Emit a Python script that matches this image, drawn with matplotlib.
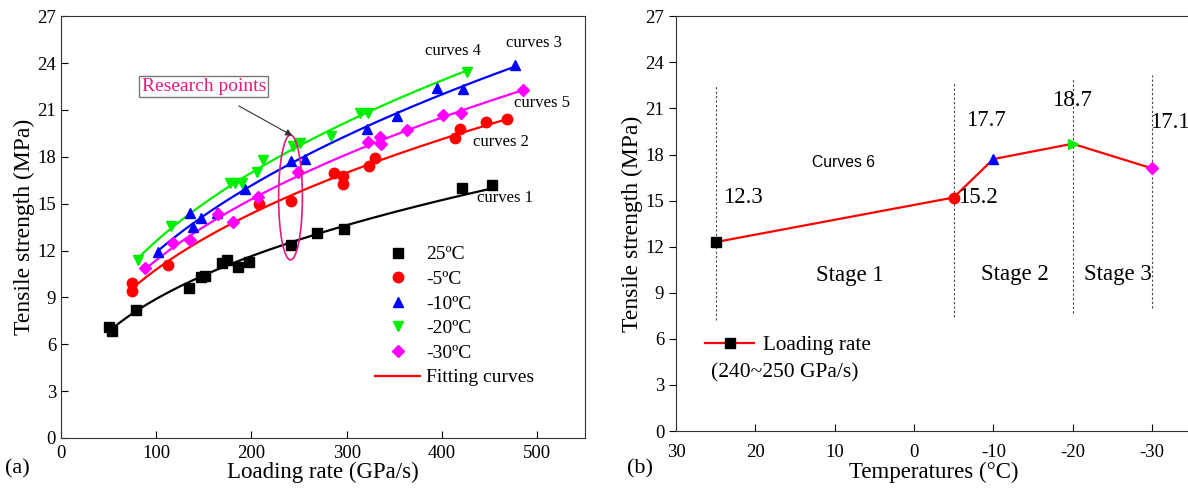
import numpy as np
import matplotlib
matplotlib.use('Agg')
from matplotlib import pyplot as plt
from matplotlib.patches import Ellipse

plt.rcParams['font.family'] = ['Liberation Serif', 'DejaVu Serif']
plt.rcParams['axes.unicode_minus'] = False

# (a) tensile strength vs loading rate
rate_25 = [50, 54, 79, 134, 147, 151, 169, 174, 186, 197, 242, 269, 297, 421, 453]
ts_25 = [7.1, 6.85, 8.2, 9.6, 10.3, 10.4, 11.2, 11.4, 10.95, 11.25, 12.35, 13.1, 13.4, 16.0, 16.2]

rate_m5 = [75, 75, 112, 208, 241, 287, 296, 296, 323, 330, 414, 419, 446, 468]
ts_m5 = [9.9, 9.4, 11.1, 15.0, 15.2, 16.95, 16.75, 16.25, 17.4, 17.95, 19.2, 19.8, 20.2, 20.45]

rate_m10 = [102, 136, 139, 147, 164, 193, 241, 256, 321, 353, 395, 422, 477]
ts_m10 = [11.9, 14.4, 13.5, 14.05, 14.4, 15.95, 17.7, 17.85, 19.75, 20.6, 22.4, 22.35, 23.9]

rate_m20 = [81, 116, 177, 183, 190, 206, 212, 244, 251, 283, 314, 322, 426]
ts_m20 = [11.4, 13.55, 16.3, 16.35, 16.3, 17.0, 17.8, 18.7, 18.9, 19.3, 20.8, 20.8, 23.4]

rate_m30 = [88, 118, 135, 165, 181, 207, 249, 322, 335, 336, 363, 401, 420, 485]
ts_m30 = [10.9, 12.45, 12.7, 14.35, 13.8, 15.45, 17.05, 18.95, 19.25, 18.85, 19.7, 20.7, 20.8, 22.25]

# (b) strength at 240~250 GPa/s vs temperature
temps = [25, -5, -10, -20, -30]
ts_temp = [12.3, 15.2, 17.7, 18.7, 17.1]

series = [
    (rate_25, ts_25, 'k', 's', u'25\u00baC'),
    (rate_m5, ts_m5, '#ff0000', 'o', u'-5\u00baC'),
    (rate_m10, ts_m10, '#0000ff', '^', u'-10\u00baC'),
    (rate_m20, ts_m20, '#00ee00', 'v', u'-20\u00baC'),
    (rate_m30, ts_m30, '#ff00ff', 'D', u'-30\u00baC'),
]

fig = plt.figure(figsize=(11.88, 4.91), dpi=100)
ax1 = fig.add_axes([0.0513, 0.108, 0.441, 0.859])
ax2 = fig.add_axes([0.569, 0.122, 0.434, 0.845])

handles = []
for x, y, c, m, lab in series:
    x = np.array(x, float)
    y = np.array(y, float)
    # power-law fit  y = a * x^b
    b, loga = np.polyfit(np.log(x), np.log(y), 1)
    xf = np.linspace(x.min(), x.max(), 200)
    ax1.plot(xf, np.exp(loga) * xf ** b, color=c, lw=1.6, zorder=2)
    ms = 6 if m == 'D' else 7.5
    h, = ax1.plot(x, y, ls='none', marker=m, color=c, ms=ms, zorder=3, label=lab)
    handles.append(h)

fit_h, = ax1.plot([], [], color='#ff0000', lw=1.6, label='Fitting curves')
handles.append(fit_h)
ax1.legend(handles=handles, loc='upper left', bbox_to_anchor=(330, 12.3),
           bbox_transform=ax1.transData, borderpad=0, borderaxespad=0,
           frameon=False, fontsize=14, handlelength=2.3, labelspacing=0.36,
           handletextpad=0.3)

ax1.text(412, 24.5, 'curves 4', fontsize=12, ha='center')
ax1.text(497, 25.0, 'curves 3', fontsize=12, ha='center')
ax1.text(505, 21.2, 'curves 5', fontsize=12, ha='center')
ax1.text(462, 18.7, 'curves 2', fontsize=12, ha='center')
ax1.text(466, 15.1, 'curves 1', fontsize=12, ha='center')

pink = '#e6197f'
ax1.add_patch(Ellipse((241, 15.4), 25, 8.0, fill=False, ec=pink, lw=1.2, zorder=4))
ax1.annotate('Research points', xy=(243, 19.35), xytext=(150, 22.5),
             fontsize=14, color=pink, ha='center', va='center',
             bbox=dict(boxstyle='square,pad=0.12', fc='white', ec='#777777', lw=1),
             arrowprops=dict(arrowstyle='-|>', color='#333333', lw=0.8,
                             shrinkA=12, shrinkB=0, mutation_scale=10),
             zorder=5)

ax1.set_xlim(0, 550)
ax1.set_ylim(0, 27)
ax1.set_xticks([0, 100, 200, 300, 400, 500])
ax1.set_yticks(np.arange(0, 28, 3))
ax1.tick_params(direction='in', labelsize=13.5, length=5, top=False, right=False)
ax1.tick_params(axis='x', pad=5)
ax1.set_xlabel('Loading rate (GPa/s)', fontsize=16.5, labelpad=0)
ax1.set_ylabel('Tensile strength (MPa)', fontsize=17, labelpad=2)
for s in ax1.spines.values():
    s.set_color('#333333')

# (b)
ax2.plot(temps, ts_temp, color='#ff0000', lw=1.6, zorder=2)
for t, v, c, m in zip(temps, ts_temp, ['k', '#ff0000', '#0000ff', '#00ee00', '#ff00ff'],
                      ['s', 'o', '^', '>', 'D']):
    ms = 6 if m == 'D' else 7.5
    ax2.plot(t, v, ls='none', marker=m, color=c, ms=ms, zorder=3)

ax2.vlines(25, 7.2, 22.5, colors='#444444', linestyles=(0, (2, 2)), lw=0.8)
ax2.vlines(-5, 7.4, 22.7, colors='#444444', linestyles=(0, (2, 2)), lw=0.8)
ax2.vlines(-20, 7.7, 22.9, colors='#444444', linestyles=(0, (2, 2)), lw=0.8)
ax2.vlines(-30, 8.0, 23.2, colors='#444444', linestyles=(0, (2, 2)), lw=0.8)

ax2.text(21.5, 15.2, '12.3', fontsize=16.5, ha='center', va='center')
ax2.text(-5.6, 15.2, '15.2', fontsize=16.5, ha='left', va='center')
ax2.text(-9.1, 20.2, '17.7', fontsize=16.5, ha='center', va='center')
ax2.text(-19.9, 21.5, '18.7', fontsize=16.5, ha='center', va='center')
ax2.text(-29.8, 20.1, '17.1', fontsize=16.5, ha='left', va='center')
ax2.text(8.9, 17.5, 'Curves 6', fontsize=11.3, ha='center', va='center',
         family=['Liberation Sans', 'DejaVu Sans'])
ax2.text(8.1, 10.1, 'Stage 1', fontsize=16.5, ha='center', va='center')
ax2.text(-12.7, 10.2, 'Stage 2', fontsize=16.5, ha='center', va='center')
ax2.text(-25.7, 10.2, 'Stage 3', fontsize=16.5, ha='center', va='center')

lr_h, = ax2.plot([], [], color='#ff0000', lw=1.6, marker='s', mfc='k', mec='k', ms=7)
ax2.legend([lr_h], ['Loading rate'], loc='center left', bbox_to_anchor=(26.3, 5.6),
           bbox_transform=ax2.transData, frameon=False, fontsize=15.3,
           handlelength=2.3, handletextpad=0.4, borderpad=0, borderaxespad=0)
ax2.text(25.6, 3.8, '(240~250 GPa/s)', fontsize=15.5, ha='left', va='center')

ax2.set_xlim(30, -35)
ax2.set_ylim(0, 27)
ax2.set_xticks([30, 20, 10, 0, -10, -20, -30])
ax2.set_yticks(np.arange(0, 28, 3))
ax2.tick_params(axis='x', direction='in', labelsize=13.5, length=5, pad=9)
ax2.tick_params(axis='y', direction='out', labelsize=13.5, length=5)
ax2.set_xlabel(u'Temperatures (\u00b0C)', fontsize=16.5, labelpad=1)
ax2.set_ylabel('Tensile strength (MPa)', fontsize=17, labelpad=2)
ax2.spines['right'].set_visible(False)
for s in ax2.spines.values():
    s.set_color('#333333')

fig.text(0.004, 0.035, '(a)', fontsize=16)
fig.text(0.528, 0.035, '(b)', fontsize=16)

fig.savefig('out.png', dpi=100)
